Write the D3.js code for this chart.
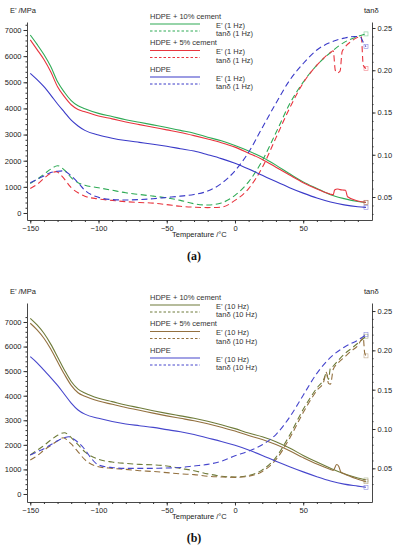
<!DOCTYPE html>
<meta charset="utf-8">
<style>
body { margin: 0; background: #fff; }
svg { display: block; }
.tick text { font-family: "Liberation Sans", Arial, sans-serif; font-size: 7.5px; fill: #222; }
.domain, .tick line { stroke: #333; }
.lbl { font-family: "Liberation Sans", Arial, sans-serif; font-size: 7.5px; fill: #222; }
.leg { font-family: "Liberation Sans", Arial, sans-serif; font-size: 7.5px; fill: #333; }
.cap { font-family: "Liberation Serif", serif; font-size: 12px; font-weight: bold; fill: #111; }
</style>
<svg width="394" height="550"></svg>
<script src="https://cdnjs.cloudflare.com/ajax/libs/d3/7.8.5/d3.min.js"></script>
<script>

// ---- data ----

// panel (a), 1 Hz.  [temperature °C, value]
var a_E10 = [[-150,6810],[-145,6450],[-140,6060],[-135,5600],[-130,5020],[-125,4620],[-120,4300],[-115,4100],[-110,3990],[-100,3810],[-90,3690],[-80,3570],[-70,3470],[-60,3370],[-50,3270],[-40,3160],[-30,3050],[-20,2900],[-10,2760],[0,2580],[10,2370],[20,2130],[30,1830],[40,1500],[50,1190],[60,940],[70,700],[80,550],[90,440],[96,400]];
var a_E5 = [[-150,6620],[-145,6250],[-140,5870],[-135,5400],[-130,4830],[-125,4450],[-120,4140],[-115,3960],[-110,3870],[-100,3710],[-90,3600],[-80,3480],[-70,3380],[-60,3280],[-50,3180],[-40,3080],[-30,2960],[-20,2830],[-10,2690],[0,2520],[10,2290],[20,2050],[30,1750],[40,1450],[50,1160],[60,920],[70,720],[72,700],[73,880],[75,920],[77,895],[79,880],[81,870],[82.5,620],[90,460],[96,410]];
var a_E0 = [[-150,5340],[-145,5100],[-140,4830],[-135,4510],[-130,4170],[-125,3860],[-120,3550],[-115,3330],[-110,3160],[-100,2980],[-90,2860],[-80,2770],[-70,2700],[-60,2630],[-50,2550],[-40,2460],[-30,2370],[-20,2230],[-10,2080],[0,1900],[10,1680],[20,1440],[30,1200],[40,970],[50,760],[60,570],[70,420],[80,310],[90,240],[96,215]];
var a_T10 = [[-150,0.066],[-145,0.071],[-140,0.077],[-135,0.083],[-130,0.087],[-125,0.082],[-120,0.073],[-115,0.067],[-110,0.064],[-100,0.061],[-90,0.058],[-80,0.055],[-70,0.053],[-60,0.051],[-50,0.049],[-40,0.046],[-30,0.042],[-20,0.0405],[-10,0.043],[0,0.052],[10,0.068],[20,0.093],[30,0.126],[40,0.160],[50,0.186],[60,0.206],[70,0.221],[80,0.233],[90,0.240],[96,0.243]];
var a_T5 = [[-150,0.060],[-145,0.065],[-140,0.072],[-135,0.078],[-131,0.080],[-127,0.075],[-120,0.061],[-115,0.055],[-110,0.051],[-100,0.0476],[-90,0.046],[-80,0.0445],[-70,0.0435],[-60,0.0428],[-50,0.041],[-40,0.039],[-30,0.038],[-20,0.0375],[-10,0.038],[0,0.046],[10,0.060],[20,0.085],[30,0.120],[40,0.155],[50,0.185],[60,0.206],[70,0.221],[72,0.223],[73.5,0.200],[75,0.197],[77,0.199],[78.5,0.222],[80,0.226],[85,0.234],[90,0.239],[92.5,0.240],[94,0.206],[96,0.202]];
var a_T0 = [[-150,0.067],[-145,0.071],[-140,0.075],[-135,0.079],[-130,0.0805],[-126,0.081],[-120,0.075],[-115,0.067],[-110,0.058],[-100,0.0496],[-90,0.047],[-80,0.0465],[-70,0.047],[-60,0.048],[-50,0.0495],[-40,0.051],[-30,0.053],[-20,0.057],[-10,0.066],[0,0.081],[10,0.103],[20,0.132],[30,0.161],[40,0.188],[50,0.208],[60,0.224],[70,0.233],[80,0.238],[88,0.240],[92,0.239],[94,0.233],[96,0.228]];

// panel (b), 10 Hz
var b_E10 = [[-150,7150],[-145,6880],[-140,6540],[-135,6100],[-130,5580],[-125,5050],[-120,4580],[-115,4270],[-110,4110],[-100,3895],[-90,3760],[-80,3620],[-70,3510],[-60,3390],[-50,3280],[-40,3180],[-30,3080],[-20,2960],[-10,2820],[0,2660],[10,2480],[20,2330],[30,2130],[40,1870],[50,1570],[60,1300],[70,1050],[80,820],[90,650],[96,570]];
var b_E5 = [[-150,6950],[-145,6680],[-140,6340],[-135,5900],[-130,5380],[-125,4870],[-120,4420],[-115,4120],[-110,3980],[-100,3785],[-90,3650],[-80,3520],[-70,3410],[-60,3290],[-50,3180],[-40,3080],[-30,2980],[-20,2860],[-10,2720],[0,2560],[10,2380],[20,2220],[30,2010],[40,1760],[50,1480],[60,1220],[70,1000],[72,960],[74.5,1200],[76,1130],[77.5,900],[80,820],[90,600],[96,500]];
var b_E0 = [[-150,5590],[-145,5340],[-140,5040],[-135,4740],[-130,4420],[-125,4060],[-120,3700],[-115,3420],[-110,3250],[-100,3080],[-90,2950],[-80,2850],[-70,2780],[-60,2710],[-50,2620],[-40,2530],[-30,2420],[-20,2280],[-10,2140],[0,1980],[10,1790],[20,1570],[30,1330],[40,1110],[50,900],[60,705],[70,530],[80,400],[90,320],[96,272]];
var b_T10 = [[-150,0.067],[-145,0.073],[-140,0.079],[-135,0.086],[-130,0.092],[-125,0.0953],[-120,0.089],[-115,0.080],[-110,0.071],[-100,0.0614],[-90,0.058],[-80,0.0563],[-70,0.055],[-60,0.0545],[-50,0.053],[-40,0.050],[-30,0.047],[-20,0.043],[-10,0.040],[0,0.039],[10,0.041],[20,0.048],[30,0.064],[40,0.092],[50,0.125],[60,0.152],[65,0.163],[67,0.171],[68.5,0.163],[70,0.178],[72,0.180],[75,0.186],[80,0.195],[85,0.202],[90,0.209],[96,0.218]];
var b_T5 = [[-150,0.0606],[-145,0.066],[-140,0.073],[-135,0.079],[-130,0.085],[-126,0.0889],[-120,0.081],[-115,0.071],[-110,0.061],[-100,0.052],[-90,0.050],[-80,0.0487],[-70,0.047],[-60,0.046],[-50,0.0445],[-40,0.043],[-30,0.042],[-20,0.040],[-10,0.039],[0,0.0385],[10,0.040],[20,0.046],[30,0.061],[40,0.088],[50,0.121],[60,0.149],[65,0.160],[67,0.172],[68.5,0.158],[70,0.157],[72,0.176],[75,0.183],[80,0.191],[85,0.199],[90,0.206],[94,0.216],[95,0.197],[96,0.193]];
var b_T0 = [[-150,0.067],[-145,0.071],[-140,0.075],[-135,0.080],[-130,0.085],[-125,0.089],[-122,0.0902],[-118,0.087],[-115,0.083],[-110,0.074],[-105,0.062],[-100,0.0542],[-90,0.051],[-80,0.050],[-70,0.050],[-60,0.050],[-50,0.0505],[-40,0.051],[-30,0.053],[-20,0.055],[-10,0.059],[0,0.066],[10,0.072],[20,0.080],[30,0.093],[40,0.115],[50,0.143],[60,0.1708],[70,0.191],[80,0.204],[90,0.213],[96,0.220]];

// axes / legend text
var xTicks = [-150, -100, -50, 0, 50];
var eTicks = [0, 1000, 2000, 3000, 4000, 5000, 6000, 7000];
var tTicks = [0.05, 0.10, 0.15, 0.20, 0.25];
var groups = ["HDPE + 10% cement", "HDPE + 5% cement", "HDPE"];

var svg = d3.select("svg");

// draws one DMA panel
function drawPanel(p) {
  var x = d3.scaleLinear().domain([-152.4, 100.4]).range([27, 372]);
  var yE = d3.scaleLinear().domain(p.eDom).range([p.bottom, p.top]);
  var yT = d3.scaleLinear().domain(p.tDom).range([p.bottom, p.top]);

  var g = svg.append("g");

  // minor ticks first, majors on top
  g.append("g").attr("transform", "translate(0," + p.bottom + ")")
    .call(d3.axisBottom(x).tickValues(d3.range(-150, 100, 10)).tickSize(2).tickFormat(""))
    .select(".domain").remove();
  g.append("g").attr("transform", "translate(27,0)")
    .call(d3.axisLeft(yE).tickValues(d3.range(0, 7400, 200)).tickSize(1.5).tickFormat(""))
    .select(".domain").remove();
  g.append("g").attr("transform", "translate(372,0)")
    .call(d3.axisRight(yT).tickValues(d3.range(0.03, 0.26, 0.01)).tickSize(1.5).tickFormat(""))
    .select(".domain").remove();

  g.append("g").attr("transform", "translate(0," + p.bottom + ")")
    .call(d3.axisBottom(x).tickValues(xTicks).tickFormat(d3.format("d")).tickSize(3.5).tickSizeOuter(0).tickPadding(2));
  g.append("g").attr("transform", "translate(27,0)")
    .call(d3.axisLeft(yE).tickValues(eTicks).tickFormat(d3.format("d")).tickSize(3.5).tickSizeOuter(0).tickPadding(2));
  g.append("g").attr("transform", "translate(372,0)")
    .call(d3.axisRight(yT).tickValues(tTicks).tickFormat(d3.format(".2f")).tickSize(3.5).tickSizeOuter(0).tickPadding(2));

  g.selectAll(".domain").attr("stroke-width", 0.9);

  g.append("text").attr("class", "lbl").attr("x", 10).attr("y", p.top - 9).text("E\u2019 /MPa");
  g.append("text").attr("class", "lbl").attr("x", 364).attr("y", p.top - 9).text("tan\u03b4");
  g.append("text").attr("class", "lbl").attr("x", 172).attr("y", p.bottom + 17).text("Temperature /\u00b0C");
  g.append("text").attr("class", "cap").attr("x", 194).attr("y", p.bottom + 40)
    .attr("text-anchor", "middle").text(p.caption);

  var lineE = d3.line().x(function(d) { return x(d[0]); }).y(function(d) { return yE(d[1]); })
    .curve(d3.curveMonotoneX);
  var lineT = d3.line().x(function(d) { return x(d[0]); }).y(function(d) { return yT(d[1]); })
    .curve(d3.curveMonotoneX);

  p.series.forEach(function(s) {
    g.append("path").datum(s.tan).attr("fill", "none").attr("stroke", s.color)
      .attr("stroke-width", 1.1).attr("stroke-dasharray", "6,3.5").attr("d", lineT);
    g.append("path").datum(s.E).attr("fill", "none").attr("stroke", s.color)
      .attr("stroke-width", 1.1).attr("d", lineE);
    // little end markers
    var le = s.E[s.E.length - 1], lt = s.tan[s.tan.length - 1];
    g.append("rect").attr("x", x(le[0]) - 2).attr("y", yE(le[1]) - 2).attr("width", 4).attr("height", 4)
      .attr("fill", "none").attr("stroke", s.color).attr("stroke-width", 0.6).attr("opacity", 0.6);
    g.append("rect").attr("x", x(lt[0]) - 2).attr("y", yT(lt[1]) - 2).attr("width", 4).attr("height", 4)
      .attr("fill", "none").attr("stroke", s.color).attr("stroke-width", 0.6).attr("opacity", 0.6);
  });

  // legend: header baseline offset from plot top; lines and labels hang below it
  var legH = [-3.5, 23, 49.5];
  p.series.forEach(function(s, i) {
    var h = p.top + legH[i];
    g.append("text").attr("class", "leg").attr("x", 150).attr("y", h).text(groups[i]);
    g.append("line").attr("x1", 150).attr("x2", 200).attr("y1", h + 5.5).attr("y2", h + 5.5)
      .attr("stroke", s.color).attr("stroke-width", 1.1);
    g.append("line").attr("x1", 150).attr("x2", 200).attr("y1", h + 12.5).attr("y2", h + 12.5)
      .attr("stroke", s.color).attr("stroke-width", 1).attr("stroke-dasharray", "2.5,2");
    g.append("text").attr("class", "leg").attr("x", 216).attr("y", h + 9).text("E\u2019 (" + p.freq + ")");
    g.append("text").attr("class", "leg").attr("x", 216).attr("y", h + 17.8).text("tan\u03b4 (" + p.freq + ")");
  });
}

drawPanel({
  top: 22, bottom: 220, eDom: [-268, 7306], tDom: [0.0228, 0.2571],
  caption: "(a)", freq: "1 Hz",
  series: [
    {E: a_E10, tan: a_T10, color: "#2eaa55"},
    {E: a_E5, tan: a_T5, color: "#e8343e"},
    {E: a_E0, tan: a_T0, color: "#3a3ac8"}
  ]
});

drawPanel({
  top: 303, bottom: 502, eDom: [-326, 7773], tDom: [0.0072, 0.2602],
  caption: "(b)", freq: "10 Hz",
  series: [
    {E: b_E10, tan: b_T10, color: "#6e7b3a"},
    {E: b_E5, tan: b_T5, color: "#93703f"},
    {E: b_E0, tan: b_T0, color: "#4646cc"}
  ]
});

</script>
